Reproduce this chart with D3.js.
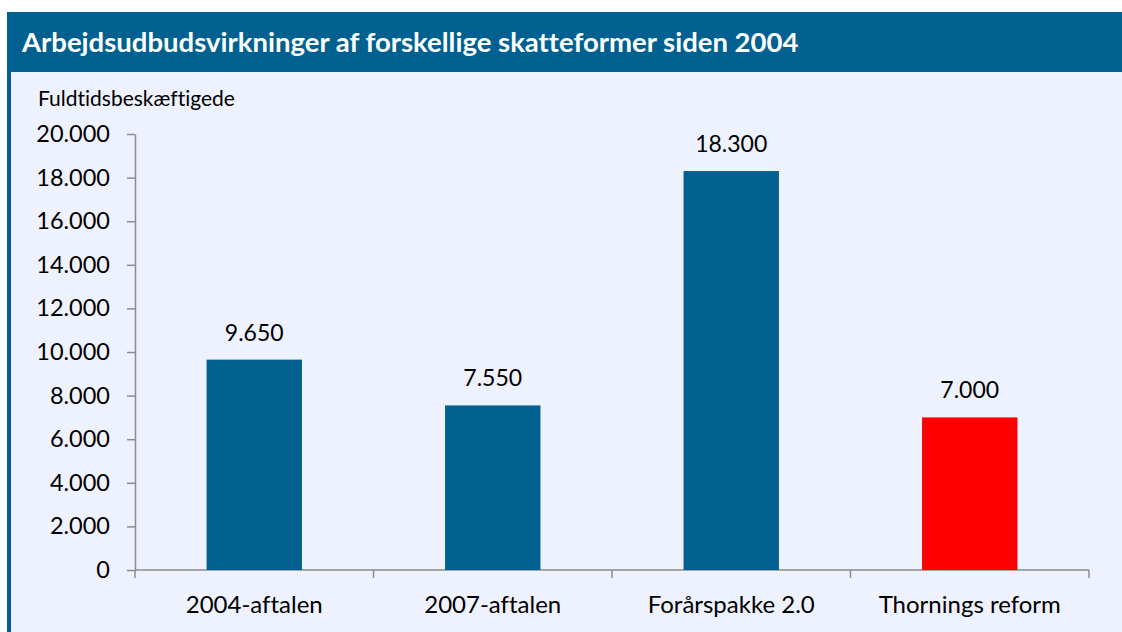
<!DOCTYPE html>
<html>
<head>
<meta charset="utf-8">
<script src="https://cdn.jsdelivr.net/npm/d3@7"></script>
<style>
  body { margin: 0; background: #fff; }
  svg { display: block; font-family: Lato, "Open Sans", sans-serif; font-variant-ligatures: none; }
</style>
</head>
<body>
<div id="chart"></div>
<script>
// Arbejdsudbudsvirkninger af forskellige skattereformer
const categories = ["2004-aftalen", "2007-aftalen", "Forårspakke 2.0", "Thornings reform"];
const values = [9650, 7550, 18300, 7000];
const barColors = ["#006190", "#006190", "#006190", "#ff0000"];
const yTicks = [0, 2000, 4000, 6000, 8000, 10000, 12000, 14000, 16000, 18000, 20000];

const width = 1122;
const height = 632;
const margin = { top: 134, right: 33, bottom: 62, left: 135 };

const fmt = v => d3.format(",")(v).replace(/,/g, ".");

const svg = d3.select("#chart")
    .append("svg")
    .attr("width", width)
    .attr("height", height);

// baggrund, venstre kant og titelbjælke
svg.append("rect")
    .attr("x", 7).attr("y", 12)
    .attr("width", width - 7).attr("height", height - 12)
    .attr("fill", "#eef2fe");

svg.append("rect")
    .attr("x", 7).attr("y", 12)
    .attr("width", 4).attr("height", height - 12)
    .attr("fill", "#006190");

svg.append("rect")
    .attr("x", 7).attr("y", 12)
    .attr("width", width - 7).attr("height", 60)
    .attr("fill", "#006190");

svg.append("text")
    .attr("x", 22)
    .attr("y", 52)
    .attr("fill", "#fff")
    .style("font-size", "27.5px")
    .style("font-weight", "bold")
    .text("Arbejdsudbudsvirkninger af forskellige skatteformer siden 2004");

svg.append("text")
    .attr("x", 38)
    .attr("y", 106)
    .attr("fill", "#000")
    .style("font-size", "21px")
    .text("Fuldtidsbeskæftigede");

const x = d3.scaleBand()
    .domain(categories)
    .range([margin.left, width - margin.right])
    .paddingInner(0.6)
    .paddingOuter(0.3);

const y = d3.scaleLinear()
    .domain([0, 20000])
    .range([height - margin.bottom, margin.top]);

const y0 = y(0);

// y-akse
const yAxis = svg.append("g")
    .attr("transform", `translate(${margin.left},0)`)
    .call(d3.axisLeft(y).tickValues(yTicks).tickFormat(fmt).tickSize(8).tickSizeOuter(0));
yAxis.select(".domain").attr("stroke", "#8c8c8c").attr("stroke-width", 1.5);
yAxis.selectAll(".tick line").attr("stroke", "#8c8c8c").attr("stroke-width", 1.5);
yAxis.selectAll(".tick text")
    .attr("x", -25)
    .attr("fill", "#000")
    .style("font-size", "23.5px")
    .style("font-family", "Lato, sans-serif");

// x-akse med skillestreger mellem kategorierne
const xg = svg.append("g");
xg.append("line")
    .attr("x1", margin.left).attr("x2", width - margin.right)
    .attr("y1", y0).attr("y2", y0)
    .attr("stroke", "#8c8c8c").attr("stroke-width", 1.5);
xg.selectAll(".sep")
    .data(d3.range(categories.length + 1))
    .enter()
    .append("line")
    .attr("x1", i => margin.left + i * (width - margin.right - margin.left) / categories.length)
    .attr("x2", i => margin.left + i * (width - margin.right - margin.left) / categories.length)
    .attr("y1", y0).attr("y2", y0 + 8)
    .attr("stroke", "#8c8c8c").attr("stroke-width", 1.5);

xg.selectAll(".cat")
    .data(categories)
    .enter()
    .append("text")
    .attr("x", d => x(d) + x.bandwidth() / 2)
    .attr("y", y0 + 43)
    .attr("text-anchor", "middle")
    .attr("fill", "#000")
    .style("font-size", "24px")
    .text(d => d);

// søjler
svg.selectAll(".bar")
    .data(values)
    .enter()
    .append("rect")
    .attr("class", "bar")
    .attr("x", (d, i) => x(categories[i]))
    .attr("y", d => y(d))
    .attr("width", x.bandwidth())
    .attr("height", d => y0 - y(d))
    .attr("fill", (d, i) => barColors[i]);

svg.selectAll(".lbl")
    .data(values)
    .enter()
    .append("text")
    .attr("x", (d, i) => x(categories[i]) + x.bandwidth() / 2)
    .attr("y", d => y(d) - 19)
    .attr("text-anchor", "middle")
    .attr("fill", "#000")
    .style("font-size", "23px")
    .text(d => fmt(d));
</script>
</body>
</html>
